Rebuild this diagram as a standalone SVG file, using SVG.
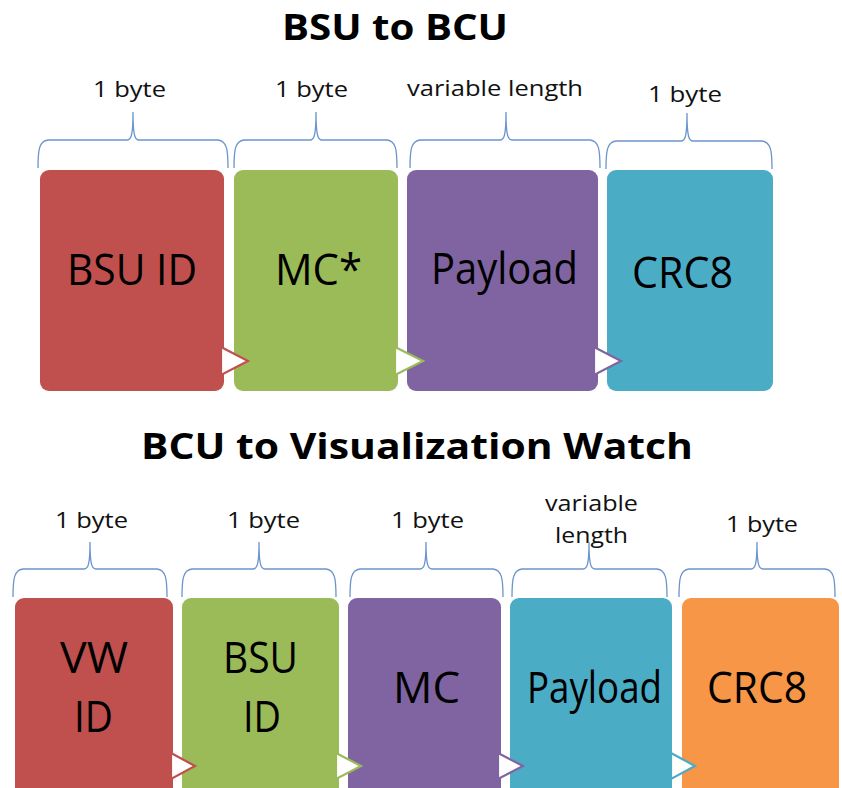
<svg xmlns="http://www.w3.org/2000/svg" width="842" height="788" viewBox="0 0 842 788">
<style>
.title{font-family:"Open Sans","Liberation Sans",sans-serif;font-weight:bold;font-size:36px;fill:#000}
.lbl{font-family:"Open Sans","Liberation Sans",sans-serif;font-size:22px;fill:#111}
.box{font-family:"Open Sans","Liberation Sans",sans-serif;font-size:43px;fill:#000}
.brace{fill:none;stroke:#6B95CC;stroke-width:1.3}
.red{fill:#C0504D}.green{fill:#9BBB59}.purple{fill:#8064A2}.cyan{fill:#4BACC6}.orange{fill:#F79646}
.tri{fill:#fff;stroke-width:2.2;stroke-linejoin:miter}
</style>
<rect width="842" height="788" fill="#fff"/>
<text class="title" x="282" y="40" textLength="226" lengthAdjust="spacingAndGlyphs">BSU to BCU</text>
<text class="title" x="141" y="459" textLength="552" lengthAdjust="spacingAndGlyphs">BCU to Visualization Watch</text>

<g id="labels-top">
<text class="lbl" x="93" y="97" textLength="73" lengthAdjust="spacingAndGlyphs">1 byte</text>
<text class="lbl" x="275" y="97" textLength="73" lengthAdjust="spacingAndGlyphs">1 byte</text>
<text class="lbl" x="407" y="96" textLength="176" lengthAdjust="spacingAndGlyphs">variable length</text>
<text class="lbl" x="648" y="102" textLength="74" lengthAdjust="spacingAndGlyphs">1 byte</text>
</g>
<g id="labels-bottom">
<text class="lbl" x="55" y="528" textLength="73" lengthAdjust="spacingAndGlyphs">1 byte</text>
<text class="lbl" x="227" y="528" textLength="73" lengthAdjust="spacingAndGlyphs">1 byte</text>
<text class="lbl" x="391" y="528" textLength="73" lengthAdjust="spacingAndGlyphs">1 byte</text>
<text class="lbl" x="545" y="511" textLength="93" lengthAdjust="spacingAndGlyphs">variable</text>
<text class="lbl" x="555" y="543" textLength="73" lengthAdjust="spacingAndGlyphs">length</text>
<text class="lbl" x="726" y="532" textLength="72" lengthAdjust="spacingAndGlyphs">1 byte</text>
</g>

<g id="braces">
<path class="brace" d="M38,168 C38,150 39,141 48,140 L127,140 C131,140 133,136 133,112 C133,136 135,140 139,140 L218,140 C227,141 228,150 228,168"/>
<path class="brace" d="M234,168 C234,150 235,141 244,140 L310,140 C314,140 316,136 316,112 C316,136 318,140 322,140 L387,140 C396,141 397,150 397,168"/>
<path class="brace" d="M410,168 C410,150 411,141 420,140 L500,140 C504,140 506,136 506,112 C506,136 508,140 512,140 L590,140 C599,141 600,150 600,168"/>
<path class="brace" d="M606,169 C606,151 607,142 616,141 L681,141 C685,141 687,137 687,113 C687,137 689,141 693,141 L762,141 C771,142 772,151 772,169"/>
<path class="brace" d="M13,597 C13,579 14,570 23,569 L84,569 C88,569 90,565 90,542 C90,565 92,569 96,569 L157,569 C166,570 167,579 167,597"/>
<path class="brace" d="M182,597 C182,579 183,570 192,569 L253,569 C257,569 259,565 259,542 C259,565 261,569 265,569 L326,569 C335,570 336,579 336,597"/>
<path class="brace" d="M350,597 C350,579 351,570 360,569 L420,569 C424,569 426,565 426,542 C426,565 428,569 432,569 L493,569 C502,570 503,579 503,597"/>
<path class="brace" d="M512,597 C512,579 513,570 522,569 L583,569 C587,569 589,565 589,542 C589,565 591,569 595,569 L657,569 C666,570 667,579 667,597"/>
<path class="brace" d="M679,597 C679,579 680,570 689,569 L751,569 C755,569 757,565 757,542 C757,565 759,569 763,569 L825,569 C834,570 835,579 835,597"/>
</g>

<g id="n-bsuid">
<rect class="red" x="40" y="170" width="184" height="221" rx="9"/>
<text class="box" x="67" y="285" textLength="130" lengthAdjust="spacingAndGlyphs">BSU ID</text>
</g>
<g id="n-mc1">
<rect class="green" x="234" y="170" width="164" height="221" rx="9"/>
<text class="box" x="275" y="285" textLength="87" lengthAdjust="spacingAndGlyphs">MC*</text>
</g>
<g id="n-payload1">
<rect class="purple" x="407" y="170" width="191" height="221" rx="9"/>
<text class="box" x="431" y="284" textLength="147" lengthAdjust="spacingAndGlyphs">Payload</text>
</g>
<g id="n-crc1">
<rect class="cyan" x="607" y="170" width="166" height="221" rx="9"/>
<text class="box" x="632" y="288" textLength="101" lengthAdjust="spacingAndGlyphs">CRC8</text>
</g>

<g id="n-vwid">
<rect class="red" x="15" y="598" width="158" height="210" rx="9"/>
<text class="box" x="60" y="673" textLength="68" lengthAdjust="spacingAndGlyphs">VW</text>
<text class="box" x="74" y="732" textLength="39" lengthAdjust="spacingAndGlyphs">ID</text>
</g>
<g id="n-bsuid2">
<rect class="green" x="182" y="598" width="157" height="210" rx="9"/>
<text class="box" x="223" y="673" textLength="75" lengthAdjust="spacingAndGlyphs">BSU</text>
<text class="box" x="243" y="732" textLength="38" lengthAdjust="spacingAndGlyphs">ID</text>
</g>
<g id="n-mc2">
<rect class="purple" x="348" y="598" width="153" height="210" rx="9"/>
<text class="box" x="393" y="703" textLength="67" lengthAdjust="spacingAndGlyphs">MC</text>
</g>
<g id="n-payload2">
<rect class="cyan" x="510" y="598" width="162" height="210" rx="9"/>
<text class="box" x="527" y="703" textLength="135" lengthAdjust="spacingAndGlyphs">Payload</text>
</g>
<g id="n-crc2">
<rect class="orange" x="682" y="598" width="157" height="210" rx="9"/>
<text class="box" x="707" y="703" textLength="100" lengthAdjust="spacingAndGlyphs">CRC8</text>
</g>

<g id="connectors">
<polygon class="tri" stroke="#C0504D" points="221,347 248,361 221,375"/>
<polygon class="tri" stroke="#9BBB59" points="395,347 423,361 395,375"/>
<polygon class="tri" stroke="#8064A2" points="594,347 621,361 594,375"/>
<polygon class="tri" stroke="#C0504D" points="171,753 195,766 171,779"/>
<polygon class="tri" stroke="#9BBB59" points="336,753 361,766 336,779"/>
<polygon class="tri" stroke="#8064A2" points="498,753 523,766 498,779"/>
<polygon class="tri" stroke="#4BACC6" points="671,753 695,766 671,779"/>
</g>
</svg>
